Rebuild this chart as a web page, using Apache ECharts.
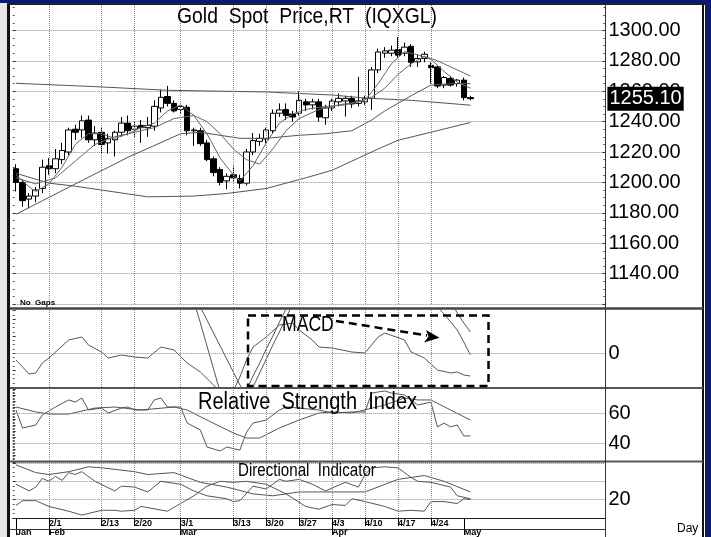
<!DOCTYPE html>
<html>
<head>
<meta charset="utf-8">
<script src="https://cdn.jsdelivr.net/npm/echarts@6/dist/echarts.min.js"></script>
<style>
  html, body { margin: 0; padding: 0; background: #fff; }
  #main { width: 711px; height: 537px; }
</style>
</head>
<body>
<div id="main"></div>
<script>
// trading days shown, plus empty days to the right of the last bar
const dates = ['1/25','1/26','1/27','1/30','1/31',
  '2/1','2/2','2/3','2/6','2/7','2/8','2/9','2/10','2/13','2/14','2/15','2/16','2/17','2/20','2/21','2/22','2/23','2/24','2/27','2/28',
  '3/1','3/2','3/3','3/6','3/7','3/8','3/9','3/10','3/13','3/14','3/15','3/16','3/17','3/20','3/21','3/22','3/23','3/24','3/27','3/28','3/29','3/30','3/31',
  '4/3','4/4','4/5','4/6','4/7','4/10','4/11','4/12','4/13','4/14','4/17','4/18','4/19','4/20','4/21','4/24','4/25','4/26','4/27','4/28',
  '5/1','5/2'];
const padDates = ['5/3','5/4','5/5','5/8','5/9','5/10','5/11','5/12','5/15','5/16','5/17','5/18','5/19','5/22','5/23','5/24','5/25','5/26','5/29','5/30'];
const dayLabels = ['2/1','2/13','2/20','3/1','3/13','3/20','3/27','4/3','4/10','4/17','4/24'];
const monthLabels = {'1/25': 'Jan', '2/1': 'Feb', '3/1': 'Mar', '4/3': 'Apr', '5/1': 'May'};

// candles
const opens = [1209,1200,1189,1191,1196,1211,1209,1215,1220,1235,
  1234.5,1241,1228,1233,1226,1228,1233,1239,1235,1237.5,
  1236,1237,1249,1256.5,1252,1248,1249.5,1234,1234,1226,
  1215.5,1208.5,1201,1205,1202.5,1199.5,1220,1227,1228.5,1234,
  1245.5,1248,1245,1245.5,1253,1251,1253,1242.5,1249,1253,
  1253.6,1255.3,1252,1253,1255.3,1274,1285,1285,1287.4,1285,
  1289.5,1279.3,1281.5,1277,1276,1264,1268.4,1265,1267.3,1255.8];
const closes = [1200,1188,1191,1195,1210,1209,1215.5,1221,1234.5,1233,
  1240.5,1228,1232.5,1225,1229,1233,1239,1234,1237,1236,
  1237.5,1250,1256,1252,1247,1250,1234,1234.5,1225.5,1215,
  1206.5,1200,1204,1203,1199.5,1220,1227.5,1229,1234.5,1245.5,
  1247.7,1244,1243,1254,1251,1253,1243,1249,1253.5,1255.3,
  1255.3,1251.6,1253.6,1255.3,1274,1285.8,1286.5,1287,1283.7,1289,
  1279,1281.5,1284.3,1275.5,1263.4,1269,1264,1267.3,1255.8,1255.1];
const highs = [1212,1202,1193,1197,1215,1216,1222,1226,1236,1238,
  1244,1244,1237,1236,1232,1234,1243,1244,1240,1241,
  1243,1254,1261,1263.5,1254,1251,1251,1236,1236,1228,
  1217,1210,1206,1210.5,1205,1222,1232.5,1232,1236,1248,
  1252,1252,1247,1260,1255,1255,1255,1251,1255,1258.5,
  1257,1257,1269.5,1257,1276,1288,1289,1290,1295.6,1292,
  1291,1284,1286,1279,1277,1270,1270,1268,1269,1257];
const lows = [1194,1184,1183,1187,1193,1205,1206,1212,1218,1228,
  1229,1226,1224,1219,1219,1217,1230,1231,1230,1226,
  1230,1234,1246,1250,1246,1245,1231,1224,1224,1214,
  1204,1198,1195.5,1201,1196,1198,1218,1224,1226,1232,
  1243,1241,1240,1244,1247,1248,1240,1238,1247,1250,
  1243.3,1249,1250,1251,1247.7,1272,1282,1283,1282,1283,
  1276,1276,1279,1265,1262,1262,1263,1263,1254,1254];
const lastPrice = 1255.10;

// moving averages, [bar index, value]
const maLong = [[0,1265.2],[12,1263],[23,1260.6],[38,1259.5],[48,1257.5],[53,1255.5],[60,1254],[69,1250.8]];
const maMid = [[0,1206],[5,1199.5],[9,1197.5],[20,1190.5],[27,1191],[32,1192.7],[38,1196],[44,1203],[48,1208],[51,1214],[55,1222],[58,1227.7],[63,1233],[69,1239.4]];
const ma20 = [[0,1179],[8,1196.8],[17,1216.5],[25,1232],[28,1233],[34,1229],[38,1229],[43,1231],[47,1232],[51,1234],[54,1241],[56,1247],[60,1257],[63,1264],[66,1265],[69,1265]];
const ma10 = [[0,1203],[3,1199],[6,1203],[9,1214],[12,1225],[15,1230],[18,1233],[21,1236],[24,1242],[27,1244],[29,1240],[31,1232],[33,1222],[35,1215],[37,1212],[39,1222],[41,1234],[43,1242],[46,1248],[49,1251],[52,1253],[54,1256],[56,1262],[58,1271],[60,1278],[62,1283],[64,1280],[66,1276],[68,1272],[69,1270]];
const ma5 = [[0,1205],[2,1197],[3,1194],[5,1199],[7,1210],[9,1225],[11,1232],[13,1232],[15,1229],[17,1232],[19,1236],[21,1239],[23,1247],[25,1251],[27,1244],[29,1232],[31,1216],[33,1205],[34,1201],[36,1211],[38,1226],[40,1239],[42,1245],[44,1248],[47,1250],[50,1251],[53,1254],[55,1265],[57,1278],[59,1286],[61,1284],[63,1281],[65,1273],[67,1266],[69,1262]];

// MACD panel
const macdOsc = [[0,-7],[2,-21],[3,-20],[4,-10],[5,-5],[8,13],[10,16],[11,8],[13,1],[14,-5],[16,-2],[18,-4],[20,-5],[22,6],[24,3],[26,-10],[28,-19],[30,-32],[31,-40],[33,-38],[34,-24],[35,-7],[36,6],[38,16],[40,28],[42,30],[43,23],[45,13],[46,6],[48,5],[51,1],[53,0],[55,16],[56,20],[59,13],[60,1],[62,-5],[64,-17],[66,-20],[67,-19],[68,-22],[69,-23]];
const macdLine = [[24,70],[26,62],[27,52],[28,30],[29,7],[30,-16],[31,-39],[32,-55],[33,-62],[34,-60],[35,-37],[36,-23],[37,-10],[38,4],[39,17],[40,31],[41,44],[42,55],[44,66],[50,72],[58,70],[63,58],[64,46],[65,39],[66,31],[67,23],[68,11],[69,-2]];
const macdSignal = [[24,80],[27,60],[28,46],[29,33],[30,20],[31,7],[32,-6],[33,-19],[34,-32],[35,-42],[36,-34],[37,-20],[38,-6],[39,8],[40,21],[41,35],[42,49],[44,62],[52,75],[62,70],[65,62],[66,52],[67,40],[68,30],[69,21]];

// RSI panel
const rsi = [[0,62],[1,50],[3,52],[4,58.7],[6,64],[8,68.7],[9,67.3],[10,70],[11,62],[13,63.3],[14,60],[16,63.3],[17,64],[18,62],[20,62],[21,68.7],[22,70],[23,64],[25,64],[26,53.3],[28,48.7],[29,37.3],[31,34.7],[32,37.3],[34,35.3],[35,47.3],[36,53.3],[38,55.3],[40,62],[41,64],[43,63.3],[46,62],[48,60],[51,60.7],[53,60.7],[54,73.3],[56,74.7],[57,73.3],[59,72],[60,68.7],[61,65.3],[63,67.3],[64,50.7],[65,53.3],[66,50.7],[67,52],[68,44.7],[69,44.7]];
const rsiAvg = [[0,64],[3,60.7],[5,59.3],[8,59.3],[12,63.3],[15,64],[19,62],[24,64],[26,62],[29,55.3],[33,46.7],[35,43.3],[37,43.3],[40,50],[43,55.3],[46,60],[48,60.7],[51,60],[56,65.3],[59,70],[61,68.7],[63,68.7],[66,62],[69,55.3]];

// directional indicator panel
const adx = [[0,57.9],[3,49.5],[5,47.4],[8,50.5],[11,55.8],[13,54.7],[18,50.5],[20,47.4],[24,49.5],[28,38.9],[32,33.7],[36,26.3],[39,24.2],[43,28.4],[48,28.4],[53,28.4],[58,42.1],[62,46.3],[65,40],[69,28.4]];
const diPlus = [[0,36.8],[2,29.5],[3,33.7],[4,43.2],[5,40],[6,45.3],[7,41],[8,49.5],[9,47.4],[10,50.5],[12,40],[15,29.5],[16,34.7],[18,33.7],[20,28.4],[22,40],[25,36.8],[27,29.5],[29,24.2],[32,21],[33,17.9],[34,18.9],[36,34.7],[38,31.6],[40,42.1],[41,40],[43,42.1],[45,36.8],[47,29.5],[50,38.9],[52,33.7],[53,47.4],[54,54.7],[56,55.8],[58,54.7],[60,44.2],[61,40],[63,38.9],[66,33.7],[67,24.2],[69,21]];
const diMinus = [[0,13.7],[1,18.9],[3,18.9],[5,12.6],[8,7.4],[10,3.2],[13,8.4],[15,8.4],[16,7.4],[18,8.4],[19,12.6],[23,7.4],[25,15.8],[27,24.2],[29,34.7],[31,40],[33,38.9],[35,40],[38,36.8],[41,26.3],[44,12.6],[46,9.5],[48,14.7],[50,13.7],[51,21],[53,17.9],[56,12.6],[58,7.4],[60,8.4],[62,7.4],[63,17.9],[65,17.9],[67,15.8],[68,21],[69,20]];

const allDates = dates.concat(padDates);
const L = 12.7, W = 592.7;
const SANS = '"Liberation Sans", Arial, sans-serif';
const gray = '#555';

const weekLines = dayLabels.map(d => ({ xAxis: d }));
const dotted = { type: 'dotted', color: '#8a8a8a', width: 1 };

function hiddenX(gi) {
  return { type: 'category', gridIndex: gi, data: allDates, boundaryGap: true, show: false };
}
function line(name, data, xi, yi, color, marks) {
  const s = {
    name, type: 'line', data, xAxisIndex: xi, yAxisIndex: yi,
    showSymbol: false, symbol: 'none', silent: true,
    lineStyle: { color: color || gray, width: 1 }
  };
  if (marks) {
    s.markLine = { silent: true, symbol: ['none', 'none'], label: { show: false }, lineStyle: dotted, data: marks };
  }
  return s;
}
function label(text, x, y, size, sx) {
  return { type: 'text', z: 60, x, y, scaleX: sx || 1,
    style: { text, font: size + 'px ' + SANS, fill: '#000', verticalAlign: 'top', textVerticalAlign: 'top' } };
}
// small inward ticks along the left plot border
function leftTicks(gi, min, max, interval) {
  return {
    type: 'value', gridIndex: gi, position: 'left', min, max, interval,
    axisLine: { show: false }, splitLine: { show: false }, axisLabel: { show: false },
    axisTick: { show: true, inside: true, length: 3, lineStyle: { color: '#333' } },
    minorTick: { show: true, splitNumber: 4, length: 2, lineStyle: { color: '#555' } }
  };
}

const chart = echarts.init(document.getElementById('main'));
const option = {
  animation: false,
  backgroundColor: '#fff',
  grid: [
    { left: L, width: W, top: 0, height: 304 },
    { left: L, width: W, top: 310, height: 77 },
    { left: L, width: W, top: 389, height: 72 },
    { left: L, width: W, top: 462, height: 58 }
  ],
  xAxis: [
    hiddenX(0), hiddenX(1), hiddenX(2),
    {
      type: 'category', gridIndex: 3, data: allDates, boundaryGap: true, position: 'bottom',
      axisLine: { show: true, lineStyle: { color: '#222', width: 1 } },
      axisTick: { show: true, alignWithLabel: true, length: 8, lineStyle: { color: '#000' },
        interval: (i, v) => dayLabels.includes(v) },
      axisLabel: { interval: (i, v) => dayLabels.includes(v), align: 'left', margin: 1,
        fontSize: 9, fontWeight: 'bold', color: '#000', fontFamily: SANS },
      splitLine: { show: false }
    },
    {
      type: 'category', gridIndex: 3, data: allDates, boundaryGap: true, position: 'bottom',
      axisLine: { show: false },
      axisTick: { show: true, alignWithLabel: true, length: 17, lineStyle: { color: '#000' },
        interval: (i, v) => v in monthLabels },
      axisLabel: { interval: (i, v) => v in monthLabels, formatter: v => monthLabels[v] || '',
        align: 'left', margin: 10, fontSize: 9, fontWeight: 'bold', color: '#000', fontFamily: SANS },
      splitLine: { show: false }
    }
  ],
  yAxis: [
    {
      type: 'value', gridIndex: 0, position: 'right', min: 1120, max: 1320, interval: 20,
      axisLine: { show: false },
      axisTick: { show: true, inside: true, length: 3, lineStyle: { color: '#333' } },
      minorTick: { show: true, splitNumber: 4, length: 2, lineStyle: { color: '#555' } },
      splitLine: { show: true, lineStyle: dotted },
      axisLabel: { margin: 3, fontSize: 20, color: '#000', fontFamily: SANS,
        formatter: v => (v <= 1120 || v >= 1320) ? '' : v.toFixed(2) }
    },
    {
      type: 'value', gridIndex: 1, position: 'right', min: -34, max: 43, interval: 17,
      axisLine: { show: false }, axisTick: { show: false }, splitLine: { show: false },
      axisLabel: { margin: 3, fontSize: 20, color: '#000', fontFamily: SANS,
        formatter: v => v === 0 ? '0' : '' }
    },
    {
      type: 'value', gridIndex: 2, position: 'right', min: 28, max: 76, interval: 4,
      axisLine: { show: false }, axisTick: { show: false }, splitLine: { show: false },
      axisLabel: { margin: 3, fontSize: 20, color: '#000', fontFamily: SANS,
        formatter: v => (v === 40 || v === 60) ? String(v) : '' }
    },
    {
      type: 'value', gridIndex: 3, position: 'right', min: 0, max: 61.05, interval: 20,
      axisLine: { show: false }, axisTick: { show: false },
      splitLine: { show: true, lineStyle: dotted },
      axisLabel: { margin: 3, fontSize: 20, color: '#000', fontFamily: SANS,
        formatter: v => v === 20 ? '20' : '' }
    },
    leftTicks(0, 1120, 1320, 20),
    leftTicks(1, -34, 43, 17),
    leftTicks(2, 28, 76, 4),
    leftTicks(3, 0, 61.05, 20)
  ],
  series: [
    {
      type: 'candlestick', xAxisIndex: 0, yAxisIndex: 0, barWidth: 6, silent: true,
      data: opens.map((o, i) => [o, closes[i], lows[i], highs[i]]),
      itemStyle: { color: '#fff', color0: '#000', borderColor: '#000', borderColor0: '#000', borderWidth: 1 },
      markLine: {
        silent: true, symbol: ['none', 'none'],
        lineStyle: { color: 'rgba(0,0,0,0)', width: 1 },
        label: { show: true, position: 'end', distance: 2, formatter: lastPrice.toFixed(2), opacity: 1,
          color: '#fff', backgroundColor: '#000', fontSize: 20, fontFamily: SANS, padding: [3, 2, 1, 2] },
        data: [{ yAxis: lastPrice }]
      }
    },
    line('maLong', maLong, 0, 0, '#555', weekLines),
    line('maMid', maMid, 0, 0, '#555'),
    line('ma20', ma20, 0, 0, '#555'),
    line('ma10', ma10, 0, 0, '#666'),
    line('ma5', ma5, 0, 0, '#666'),
    line('macdOsc', macdOsc, 1, 1, gray, weekLines.concat([{ yAxis: 0 }])),
    line('macd', macdLine, 1, 1, gray),
    line('signal', macdSignal, 1, 1, gray),
    line('rsi', rsi, 2, 2, gray, weekLines.concat([{ yAxis: 40 }, { yAxis: 60 }])),
    line('rsiAvg', rsiAvg, 2, 2, gray),
    line('adx', adx, 3, 3, gray, weekLines),
    line('diPlus', diPlus, 3, 3, gray),
    line('diMinus', diMinus, 3, 3, gray)
  ],
  graphic: [
    // window frame
    { type: 'rect', z: 50, shape: { x: 0, y: 0, width: 711, height: 3 }, style: { fill: '#0c1a6e' } },
    { type: 'rect', z: 50, shape: { x: 0, y: 3, width: 7, height: 534 }, style: { fill: '#e6e6e6' } },
    { type: 'rect', z: 50, shape: { x: 705, y: 0, width: 6, height: 537 }, style: { fill: '#0c1a6e' } },
    { type: 'line', z: 50, shape: { x1: 8.5, y1: 3, x2: 8.5, y2: 537 }, style: { stroke: '#111', lineWidth: 3 } },
    { type: 'line', z: 50, shape: { x1: 7, y1: 4, x2: 705, y2: 4 }, style: { stroke: '#222', lineWidth: 2 } },
    { type: 'line', z: 50, shape: { x1: 703, y1: 3, x2: 703, y2: 537 }, style: { stroke: '#111', lineWidth: 2 } },
    // panel separators
    { type: 'line', z: 50, shape: { x1: 10, y1: 308.5, x2: 703, y2: 308.5 }, style: { stroke: '#444', lineWidth: 2.5 } },
    { type: 'line', z: 50, shape: { x1: 10, y1: 388, x2: 703, y2: 388 }, style: { stroke: '#555', lineWidth: 2 } },
    { type: 'line', z: 50, shape: { x1: 10, y1: 461.5, x2: 703, y2: 461.5 }, style: { stroke: '#555', lineWidth: 2 } },
    { type: 'line', z: 50, shape: { x1: 605.5, y1: 4, x2: 605.5, y2: 537 }, style: { stroke: '#333', lineWidth: 1 } },
    { type: 'line', z: 50, shape: { x1: 10, y1: 529.5, x2: 605, y2: 529.5 }, style: { stroke: '#333', lineWidth: 1 } },
    // texts
    label('Gold  Spot  Price,RT  (IQXGL)', 177, 6, 22, 0.88),
    { type: 'text', z: 60, x: 20, y: 299, style: { text: 'No  Gaps', font: 'bold 8px ' + SANS, fill: '#000', verticalAlign: 'top', textVerticalAlign: 'top' } },
    label('MACD', 282, 314, 22, 0.8),
    label('Relative  Strength  Index', 198, 391, 23, 0.87),
    label('Directional  Indicator', 238, 462, 18, 0.84),
    label('Day', 677, 523, 12),
    // MACD annotation
    { type: 'rect', z: 60, shape: { x: 248, y: 315.5, width: 240.5, height: 70.5 }, style: { fill: 'none', stroke: '#000', lineWidth: 2.5, lineDash: [8, 5] } },
    { type: 'line', z: 60, shape: { x1: 336, y1: 321, x2: 427, y2: 335.5 }, style: { stroke: '#000', lineWidth: 2.5, lineDash: [8, 5] } },
    { type: 'polygon', z: 60, shape: { points: [[439.5, 337.8], [426, 330], [428.5, 336.5], [424, 342.5]] }, style: { fill: '#000' } }
  ]
};
chart.setOption(option);
</script>
</body>
</html>
